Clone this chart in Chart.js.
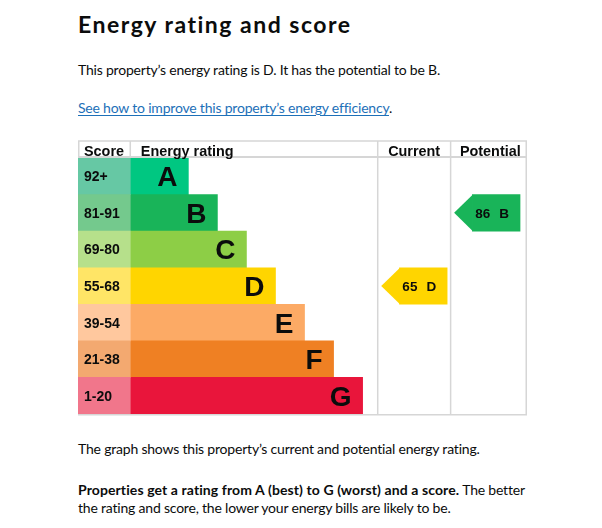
<!DOCTYPE html>
<html>
<head>
<meta charset="utf-8">
<script src="https://cdn.jsdelivr.net/npm/chart.js@4"></script>
<style>
  html, body { margin: 0; padding: 0; background: #fff; }
  body { width: 602px; height: 528px; position: relative; overflow: hidden;
         font-family: Lato, "Noto Sans", sans-serif; color: #0b0c0c; }
  .txt { position: absolute; left: 78px; white-space: nowrap; font-size: 14px; line-height: 18px; letter-spacing: -0.2px; }
  .txt b { letter-spacing: 0.1px; }
  h2 { position: absolute; left: 78px; top: 11px; margin: 0; font-size: 23px; line-height: 26px; font-weight: 700; letter-spacing: 1.5px; }
  a { color: #1d70b8; text-decoration: underline; text-underline-offset: 2px; text-decoration-thickness: 1px; }
  #wrap { position: absolute; left: 78px; top: 140px; width: 450px; height: 276px; }
</style>
</head>
<body>
<h2>Energy rating and score</h2>
<div class="txt" style="top:61px">This property’s energy rating is D. It has the potential to be B.</div>
<div class="txt" style="top:99px"><a href="#">See how to improve this property’s energy efficiency</a>.</div>
<div id="wrap"><canvas id="epcChart"></canvas></div>
<div class="txt" style="top:440px">The graph shows this property’s current and potential energy rating.</div>
<div class="txt" style="top:481px"><b>Properties get a rating from A (best) to G (worst) and a score.</b> The better<br>the rating and score, the lower your energy bills are likely to be.</div>

<script>
// Bands and data
const bands = ['A', 'B', 'C', 'D', 'E', 'F', 'G'];
const scoreLabels = ['92+', '81-91', '69-80', '55-68', '39-54', '21-38', '1-20'];
const bandMins = [92, 81, 69, 55, 39, 21, 1];
const barLengths = [2, 3, 4, 5, 6, 7, 8];
const bandColors = ['#00c781', '#19b459', '#8dce46', '#ffd500', '#fcaa65', '#ef8023', '#e9153b'];
const scoreColors = ['#66c8a4', '#74c98d', '#b6e08b', '#ffe566', '#ffc89e', '#f3a970', '#f1768b'];
const currentScore = 65;
const potentialScore = 86;

// Layout in bar steps
const SCORE_COL = 1.8;
const CURRENT_COL = 8.52;
const POTENTIAL_COL = 11.03;
const X_MAX = 13.66;
const LINE = '#d6d6d6';
const INK = '#0b0c0c';

function bandIndex(score) {
    return bandMins.findIndex(m => score >= m);
}

function arrowData(score, col) {
    const idx = bandIndex(score);
    return bands.map((b, i) => i === idx ? [col + 0.75, col + 2.39] : null);
}

const curIdx = bandIndex(currentScore);
const potIdx = bandIndex(potentialScore);

const barOpts = { barPercentage: 1, categoryPercentage: 1, borderWidth: 0, grouped: false };

// Table lines, header, letters and arrow tips
const epcPlugin = {
    id: 'epcTable',
    afterDatasetsDraw(chart) {
        const ctx = chart.ctx;
        const area = chart.chartArea;
        const x = chart.scales.x;
        const xCur = x.getPixelForValue(CURRENT_COL);
        const xPot = x.getPixelForValue(POTENTIAL_COL);
        const xBars = x.getPixelForValue(0);
        ctx.save();

        // lines
        ctx.strokeStyle = LINE;
        ctx.lineWidth = 1.5;
        ctx.beginPath();
        ctx.moveTo(area.left, 1); ctx.lineTo(area.right, 1);
        ctx.moveTo(area.left, area.bottom + 0.75); ctx.lineTo(area.right, area.bottom + 0.75);
        ctx.moveTo(area.left + 0.75, 1); ctx.lineTo(area.left + 0.75, area.top);
        ctx.moveTo(xBars, 1); ctx.lineTo(xBars, area.top);
        [xCur, xPot, area.right - 0.75].forEach(px => {
            ctx.moveTo(px, 1); ctx.lineTo(px, area.bottom + 1.5);
        });
        ctx.stroke();
        ctx.lineWidth = 2;
        ctx.beginPath();
        ctx.moveTo(area.left, area.top - 1); ctx.lineTo(area.right, area.top - 1);
        ctx.stroke();

        // header
        ctx.fillStyle = INK;
        ctx.font = 'bold 14.4px "Liberation Sans", Arial, sans-serif';
        ctx.textBaseline = 'alphabetic';
        ctx.textAlign = 'left';
        ctx.fillText('Score', area.left + 6, 15.5);
        ctx.fillText('Energy rating', xBars + 10.5, 15.5);
        ctx.textAlign = 'center';
        ctx.fillText('Current', (xCur + xPot) / 2, 15.5);
        ctx.fillText('Potential', (xPot + area.right) / 2 + 1.5, 15.5);

        // score labels
        const scoreMeta = chart.getDatasetMeta(0);
        ctx.textAlign = 'left';
        ctx.font = 'bold 14px "Liberation Sans", Arial, sans-serif';
        scoreMeta.data.forEach((el, i) => {
            ctx.fillText(scoreLabels[i], area.left + 6, el.y + 5);
        });

        // band letters
        const barMeta = chart.getDatasetMeta(1);
        ctx.textAlign = 'right';
        ctx.font = 'bold 28px "Liberation Sans", Arial, sans-serif';
        barMeta.data.forEach((el, i) => {
            ctx.fillText(bands[i], el.x - 11, el.y + 10);
        });

        // arrows
        [[2, currentScore, curIdx], [3, potentialScore, potIdx]].forEach(([ds, score, idx]) => {
            const el = chart.getDatasetMeta(ds).data[idx];
            const left = Math.min(el.x, el.base);
            const right = Math.max(el.x, el.base);
            const half = el.height / 2;
            ctx.fillStyle = bandColors[idx];
            ctx.beginPath();
            ctx.moveTo(left + 0.5, el.y - half);
            ctx.lineTo(left - half, el.y);
            ctx.lineTo(left + 0.5, el.y + half);
            ctx.closePath();
            ctx.fill();
            ctx.fillStyle = INK;
            ctx.font = 'bold 13.5px "Liberation Sans", Arial, sans-serif';
            ctx.textAlign = 'right';
            ctx.fillText(bands[idx], right - 11, el.y + 5);
            const lw = ctx.measureText(bands[idx]).width;
            ctx.fillText(String(score), right - 11 - lw - 9, el.y + 5);
        });
        ctx.restore();
    }
};

function initChart() {
    const ctx = document.getElementById('epcChart').getContext('2d');
    new Chart(ctx, {
        type: 'bar',
        data: {
            labels: bands,
            datasets: [
                { label: 'Score', data: bands.map(() => [-SCORE_COL, 0]), backgroundColor: scoreColors, ...barOpts },
                { label: 'Energy rating', data: barLengths, backgroundColor: bandColors, ...barOpts },
                { label: 'Current', data: arrowData(currentScore, CURRENT_COL), backgroundColor: bandColors[curIdx], ...barOpts },
                { label: 'Potential', data: arrowData(potentialScore, POTENTIAL_COL), backgroundColor: bandColors[potIdx], ...barOpts }
            ]
        },
        options: {
            indexAxis: 'y',
            responsive: true,
            maintainAspectRatio: false,
            animation: false,
            layout: { padding: { top: 18, bottom: 2, left: 0, right: 1 } },
            plugins: {
                legend: { display: false },
                tooltip: { enabled: false }
            },
            scales: {
                x: { type: 'linear', min: -SCORE_COL, max: X_MAX, display: false },
                y: { type: 'category', display: false, offset: true }
            }
        },
        plugins: [epcPlugin]
    });
}

window.onload = initChart;
</script>
</body>
</html>
